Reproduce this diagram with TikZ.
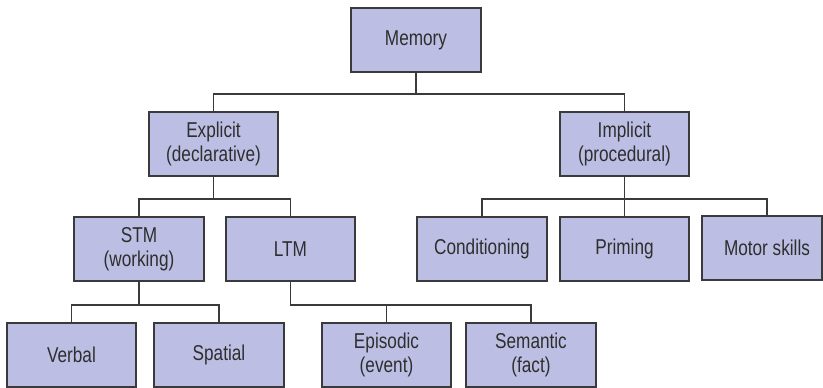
\documentclass[tikz,border=0pt]{standalone}
\usepackage{fontspec}
\setmainfont[FakeStretch=0.8]{Liberation Sans}
\definecolor{boxfill}{HTML}{BCBFE3}
\definecolor{boxline}{HTML}{3A3A3A}
\definecolor{txt}{HTML}{2E2E2E}
\begin{document}
\begin{tikzpicture}[x=1pt,y=-1pt,
  box/.style={draw=boxline, fill=boxfill, line width=1.3pt, minimum width=130pt, minimum height=64pt,
    align=center, inner sep=2pt, text=txt, font=\fontsize{21.5}{24}\selectfont},
  link/.style={draw=boxline, line width=1.3pt}]
\useasboundingbox[fill=white] (0,0) rectangle (823,388);
\node[box] (mem) at (416,40) {Memory};
\node[box, minimum width=129pt] (expl) at (213.5,144) {Explicit\\(declarative)};
\node[box, minimum width=129pt] (impl) at (624.5,144) {Implicit\\(procedural)};
\node[box] (stm) at (139,249) {STM\\(working)};
\node[box, minimum width=129pt] (ltm) at (290.5,249) {LTM};
\node[box] (cond) at (482,249) {Conditioning};
\node[box, minimum width=129pt] (prim) at (624.5,249) {Priming};
\node[box, minimum width=120pt] (motor) at (762,248) {\hspace*{10pt}Motor skills};
\node[box, minimum width=129pt] (verb) at (71.5,355) {Verbal};
\node[box] (spat) at (219,355) {Spatial};
\node[box, minimum width=129pt] (epi) at (386.5,355) {Episodic\\(event)};
\node[box] (sem) at (531,355) {Semantic\\(fact)};
\coordinate (b1) at (416,94);
\coordinate (b2) at (213.5,199);
\coordinate (b3) at (624.5,199);
\coordinate (b4) at (139,305);
\coordinate (b5) at (290.5,305);
\draw[link] (mem.south) -- (b1);
\draw[link] (expl.north) |- (b1) -| (impl.north);
\draw[link] (expl.south) -- (b2);
\draw[link] (stm.north) |- (b2) -| (ltm.north);
\draw[link] (impl.south) -- (b3);
\draw[link] (cond.north) |- (b3) -| ([xshift=5pt]motor.north);
\draw[link] (prim.north) -- (b3);
\draw[link] (stm.south) -- (b4);
\draw[link] (verb.north) |- (b4) -| (spat.north);
\draw[link] (ltm.south) -- (b5) -| (sem.north);
\draw[link] (epi.north) -- (epi.north |- b5);
\end{tikzpicture}
\end{document}
